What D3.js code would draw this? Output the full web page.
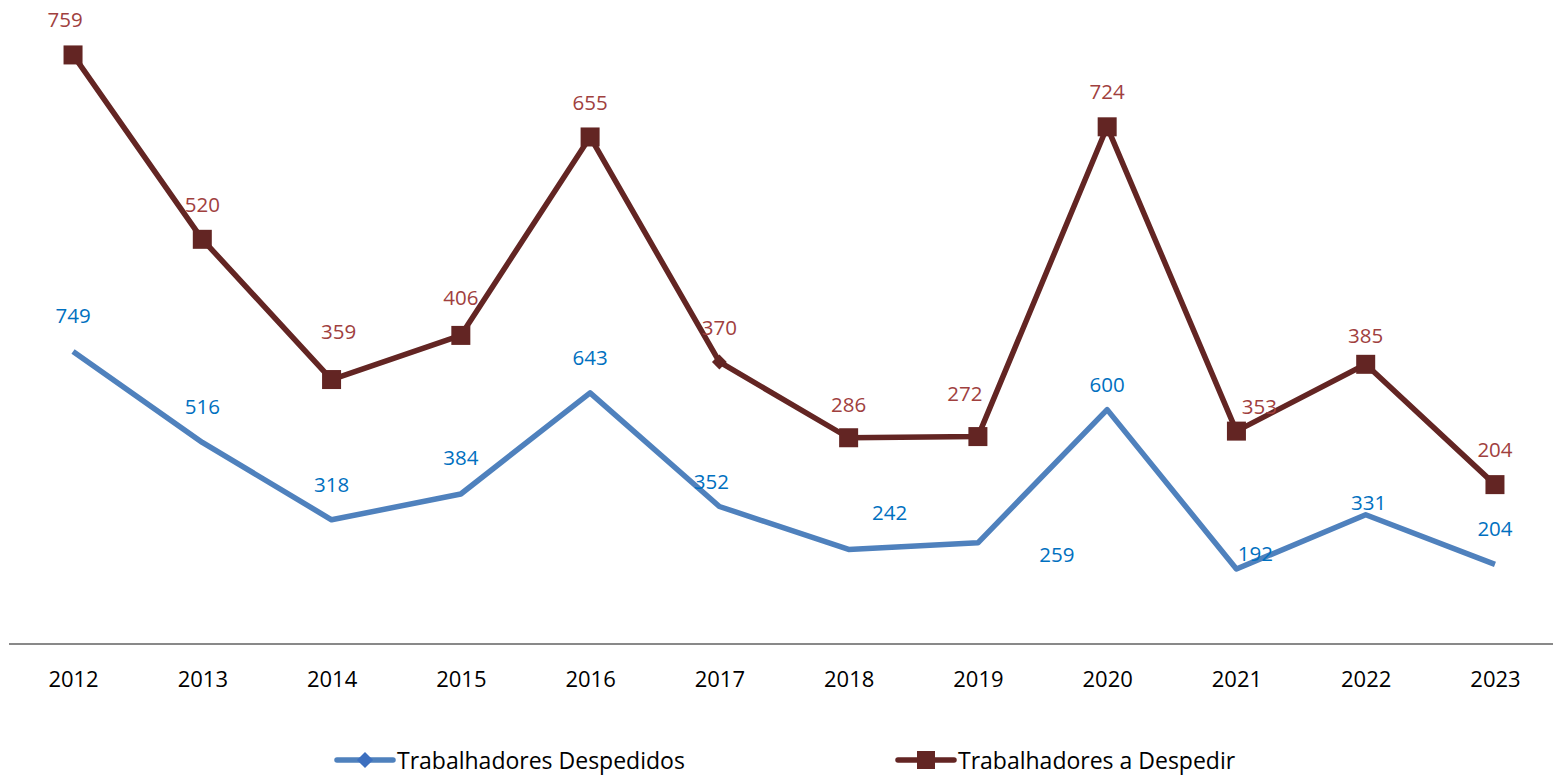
<!DOCTYPE html>
<html>
<head>
<meta charset="utf-8">
<script src="https://cdn.jsdelivr.net/npm/d3@7"></script>
<style>
  body { margin: 0; background: #fff; }
  svg text { font-family: "Open Sans", "DejaVu Sans", sans-serif; }
</style>
</head>
<body>
<div id="chart"></div>
<script>
// data (stacked lines)
const years = ["2012", "2013", "2014", "2015", "2016", "2017", "2018", "2019", "2020", "2021", "2022", "2023"];
const despedidos = [749, 516, 318, 384, 643, 352, 242, 259, 600, 192, 331, 204];
const aDespedir = [759, 520, 359, 406, 655, 370, 286, 272, 724, 353, 385, 204];
const seriesNames = ["Trabalhadores Despedidos", "Trabalhadores a Despedir"];

// label nudges, as placed by hand in the original
const blueLabelShift = [[0,-36],[0,-36],[0,-36],[0,-37],[0,-36],[-8,-26],[41,-37],[79,11],[0,-26],[19,-16],[3,-13],[0,-36]];
const redLabelShift = [[-8,-36],[0,-35],[7,-49],[0,-38],[0,-35],[0,-35],[0,-34],[-13,-44],[0,-36],[23,-25],[0,-29],[0,-36]];

const width = 1553, height = 775;

const svg = d3.select("#chart")
    .append("svg")
    .attr("width", width)
    .attr("height", height);

const x = d3.scalePoint()
    .domain(years)
    .range([8.4, 1559.6])
    .padding(0.5);

const y = d3.scaleLinear()
    .domain([0, 1600])
    .range([644, 19]);

const blueColor = "#4F81BD";
const redColor = "#632523";

// stacked values
const stacked = aDespedir.map((v, i) => v + despedidos[i]);

// x axis
const xAxis = svg.append("g")
    .attr("transform", `translate(0,${y(0)})`)
    .call(d3.axisBottom(x).tickSize(0).tickPadding(27));
xAxis.select(".domain")
    .attr("d", `M9,0H1553`)
    .style("stroke", "#898989")
    .style("stroke-width", 2);
xAxis.selectAll("text")
    .style("font-size", "22px")
    .style("fill", "#000");

const line = d3.line()
    .x(d => x(d[0]))
    .y(d => y(d[1]));

// blue line
svg.append("path")
    .datum(years.map((yr, i) => [yr, despedidos[i]]))
    .attr("d", line)
    .style("fill", "none")
    .style("stroke", blueColor)
    .style("stroke-width", 5.5)
    .style("stroke-linejoin", "round");

// red line
svg.append("path")
    .datum(years.map((yr, i) => [yr, stacked[i]]))
    .attr("d", line)
    .style("fill", "none")
    .style("stroke", redColor)
    .style("stroke-width", 5.5)
    .style("stroke-linejoin", "round");

// red markers (2017 one is a small diamond in the original)
const sq = 19;
years.forEach((yr, i) => {
    const cx = x(yr), cy = y(stacked[i]);
    if (yr === "2017") {
        svg.append("path")
            .attr("d", d3.symbol(d3.symbolSquare, 110)())
            .attr("transform", `translate(${cx},${cy}) rotate(45)`)
            .style("fill", redColor);
    } else {
        svg.append("rect")
            .attr("x", cx - sq / 2)
            .attr("y", cy - sq / 2)
            .attr("width", sq)
            .attr("height", sq)
            .style("fill", redColor);
    }
});

// data labels
svg.selectAll(".lblBlue")
    .data(despedidos)
    .enter()
    .append("text")
    .attr("x", (d, i) => x(years[i]) + blueLabelShift[i][0])
    .attr("y", (d, i) => y(d) + blueLabelShift[i][1])
    .attr("text-anchor", "middle")
    .attr("dominant-baseline", "central")
    .style("font-size", "20.5px")
    .style("fill", "#0070C0")
    .text(d => d);

svg.selectAll(".lblRed")
    .data(aDespedir)
    .enter()
    .append("text")
    .attr("x", (d, i) => x(years[i]) + redLabelShift[i][0])
    .attr("y", (d, i) => y(stacked[i]) + redLabelShift[i][1])
    .attr("text-anchor", "middle")
    .attr("dominant-baseline", "central")
    .style("font-size", "20.5px")
    .style("fill", "#A0403E")
    .text(d => d);

// legend
const legend = svg.append("g").attr("transform", "translate(0,760)");
const legendItems = [
    { name: seriesNames[0], color: blueColor, x0: 337, shape: "diamond" },
    { name: seriesNames[1], color: redColor, x0: 898, shape: "square" }
];
legendItems.forEach(item => {
    const g = legend.append("g").attr("transform", `translate(${item.x0},0)`);
    g.append("line")
        .attr("x1", 0).attr("x2", 56)
        .attr("y1", 0).attr("y2", 0)
        .style("stroke", item.color)
        .style("stroke-width", 5.5)
        .style("stroke-linecap", "round");
    if (item.shape === "diamond") {
        g.append("path")
            .attr("d", d3.symbol(d3.symbolSquare, 130)())
            .attr("transform", "translate(28,0) rotate(45)")
            .style("fill", "#3C6FBF");
    } else {
        g.append("rect")
            .attr("x", 28 - 9).attr("y", -9)
            .attr("width", 18).attr("height", 18)
            .style("fill", item.color);
    }
    g.append("text")
        .attr("x", 60)
        .attr("y", 0)
        .attr("dominant-baseline", "central")
        .style("font-size", "23px")
        .style("fill", "#000")
        .text(item.name);
});
</script>
</body>
</html>
